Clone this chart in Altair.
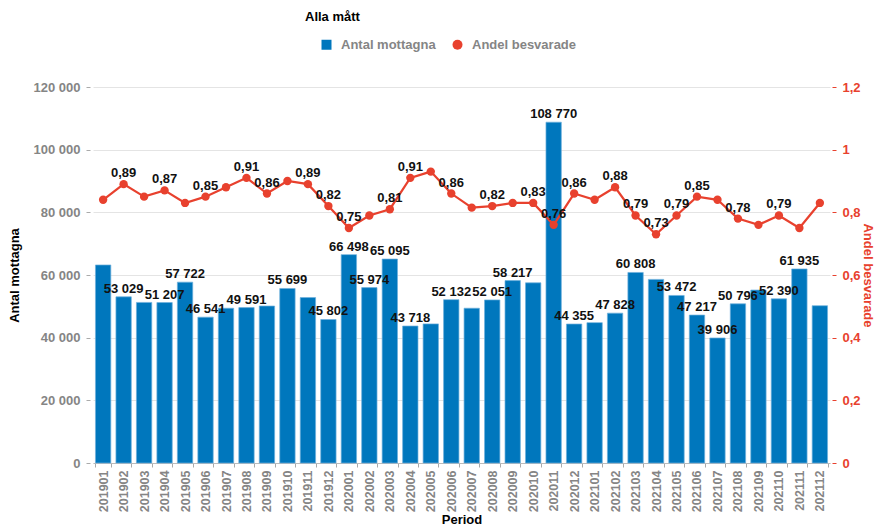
import altair as alt
import pandas as pd

periods = ["201901", "201902", "201903", "201904", "201905", "201906", "201907", "201908", "201909",
           "201910", "201911", "201912", "202001", "202002", "202003", "202004", "202005", "202006",
           "202007", "202008", "202009", "202010", "202011", "202012", "202101", "202102", "202103",
           "202104", "202105", "202106", "202107", "202108", "202109", "202110", "202111", "202112"]

antal_mottagna = [63200, 53029, 51250, 51207, 57722, 46541, 49400, 49591, 50100, 55699, 52800, 45802,
                  66498, 55974, 65095, 43718, 44400, 52132, 49400, 52051, 58217, 57500, 108770, 44355,
                  44800, 47828, 60808, 58600, 53472, 47217, 39906, 50796, 55200, 52390, 61935, 50200]

andel_besvarade = [0.84, 0.89, 0.85, 0.87, 0.83, 0.85, 0.88, 0.91, 0.86, 0.90, 0.89, 0.82,
                   0.75, 0.79, 0.81, 0.91, 0.93, 0.86, 0.815, 0.82, 0.83, 0.83, 0.76, 0.86,
                   0.84, 0.88, 0.79, 0.73, 0.79, 0.85, 0.84, 0.78, 0.76, 0.79, 0.75, 0.83]

# which value labels are visible (1 = shown)
bar_label_shown = [0, 1, 0, 1, 1, 1, 0, 1, 0, 1, 0, 1, 1, 1, 1, 1, 0, 1, 0, 1, 1, 0, 1, 1,
                   0, 1, 1, 0, 1, 1, 1, 1, 0, 1, 1, 0]
line_label_shown = [0, 1, 0, 1, 0, 1, 0, 1, 1, 0, 1, 1, 1, 0, 1, 1, 0, 1, 0, 1, 0, 1, 1, 1,
                    0, 1, 1, 1, 1, 1, 0, 1, 0, 1, 0, 0]

series = ["Antal mottagna", "Andel besvarade"]
colors = ["#0077bd", "#e8412e"]

FONT = "Liberation Sans"
GRAY = "#858585"
FS = 13

df = pd.DataFrame({
    "Period": periods,
    "antal": antal_mottagna,
    "andel": andel_besvarade,
    "blabel": [f"{v:,}".replace(",", " ") if s else "" for v, s in zip(antal_mottagna, bar_label_shown)],
    "llabel": [f"{v:.2f}".replace(".", ",") if s else "" for v, s in zip(andel_besvarade, line_label_shown)],
})
df["serie_bar"] = series[0]
df["serie_line"] = series[1]

x_enc = alt.X("Period:N", sort=periods, title="Period",
              scale=alt.Scale(paddingInner=0.25, paddingOuter=0.12),
              axis=alt.Axis(labelAngle=-90, labelColor=GRAY, labelFontWeight="bold", labelFontSize=12.5,
                            labelFont=FONT, labelPadding=3, tickBand="extent", tickColor="#aaaaaa",
                            tickSize=4, domainColor="#bbbbbb", titleFont=FONT, titleFontSize=FS,
                            titleFontWeight="bold", titleColor="#000000", titlePadding=2, grid=False))

left_scale = alt.Scale(domain=[0, 120000], nice=False)
right_scale = alt.Scale(domain=[0, 1.2], nice=False)

color_enc = alt.Color("serie:N", scale=alt.Scale(domain=series, range=colors),
                      legend=alt.Legend(title="Alla mått", orient="none", direction="horizontal",
                                        legendX=212, legendY=-76, titleFont=FONT, titleFontSize=FS,
                                        titleFontWeight="bold", titleColor="#000000", titlePadding=14,
                                        labelFont=FONT, labelFontSize=FS, labelFontWeight="bold",
                                        labelColor=GRAY, symbolSize=100, columnPadding=-5,
                                        labelOffset=8, symbolOffset=15, symbolStrokeWidth=0))

base = alt.Chart(df)

bars = base.mark_bar(color=colors[0], stroke="#6fb0dc", strokeWidth=0.7).transform_calculate(
    serie="datum.serie_bar"
).encode(
    x=x_enc,
    y=alt.Y("antal:Q", scale=left_scale,
            axis=alt.Axis(title="Antal mottagna", values=[0, 20000, 40000, 60000, 80000, 100000, 120000],
                          labelExpr="replace(format(datum.value, ','), ',', ' ')",
                          labelColor=GRAY, labelFontWeight="bold", labelFontSize=FS, labelFont=FONT,
                          labelPadding=6, tickSize=4, offset=3, tickColor="#aaaaaa", domain=False,
                          gridColor="#e4e4e4", titleFont=FONT, titleFontSize=FS, titleFontWeight="bold",
                          titleColor="#000000", titlePadding=12)),
    color=color_enc,
)

line = base.mark_line(color=colors[1], strokeWidth=2.2).encode(
    x=alt.X("Period:N", sort=periods),
    y=alt.Y("andel:Q", scale=right_scale,
            axis=alt.Axis(title="Andel besvarade", orient="right", values=[0, 0.2, 0.4, 0.6, 0.8, 1.0, 1.2],
                          labelExpr="replace(format(datum.value, '.1~f'), '.', ',')",
                          labelColor=colors[1], labelFontWeight="bold", labelFontSize=FS, labelFont=FONT,
                          labelPadding=6, tickSize=4, offset=2, tickColor=colors[1], domain=False,
                          grid=False, titleFont=FONT, titleFontSize=FS, titleFontWeight="bold",
                          titleColor=colors[1], titlePadding=0)),
)

points = base.mark_point(filled=True, size=70, opacity=1).transform_calculate(
    serie="datum.serie_line"
).encode(
    x=alt.X("Period:N", sort=periods),
    y=alt.Y("andel:Q", scale=right_scale, axis=None),
    color=color_enc,
    shape=alt.Shape("serie:N", scale=alt.Scale(domain=series, range=["square", "circle"]), legend=None),
)

bar_text = base.mark_text(font=FONT, fontSize=FS, fontWeight="bold", color="#111111",
                          baseline="alphabetic", dy=-4).encode(
    x=alt.X("Period:N", sort=periods),
    y=alt.Y("antal:Q", scale=left_scale, axis=None),
    text="blabel:N",
)

line_text = base.mark_text(font=FONT, fontSize=FS, fontWeight="bold", color="#111111",
                           baseline="alphabetic", dy=-7).encode(
    x=alt.X("Period:N", sort=periods),
    y=alt.Y("andel:Q", scale=right_scale, axis=None),
    text="llabel:N",
)

chart = alt.layer(bars, line, points, bar_text, line_text).resolve_scale(
    y="independent"
).properties(
    width=737, height=376,
    autosize=alt.AutoSizeParams(type="none"),
    padding={"left": 85, "top": 79, "right": 44, "bottom": 64},
).configure_view(stroke=None)

chart.save("out.html", embed_options={"renderer": "svg", "actions": False})
